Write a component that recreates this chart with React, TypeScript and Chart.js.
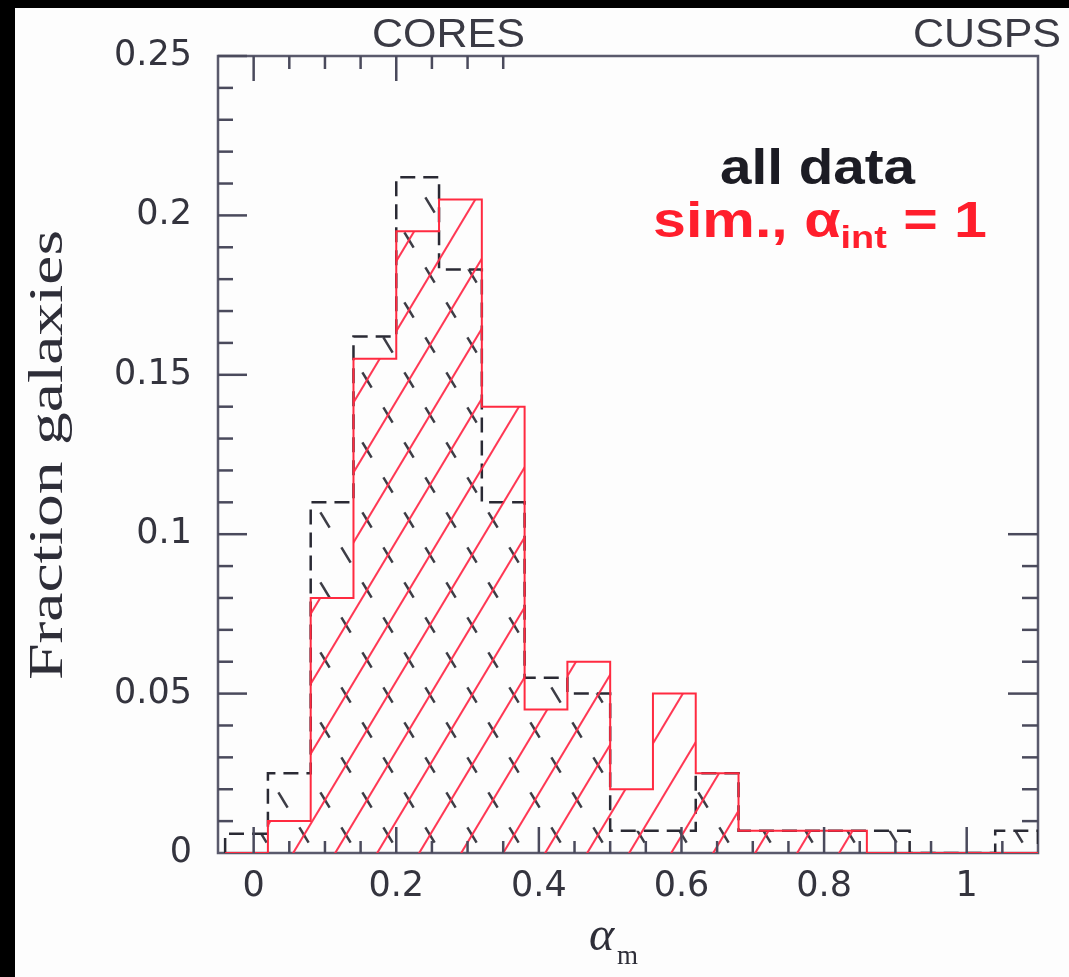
import React, { useEffect, useRef } from "react";
import { Chart, registerables } from "chart.js";

Chart.register(...registerables);

// ---- data ----
const binEdges = [-0.04, 0.02, 0.08, 0.14, 0.2, 0.26, 0.32, 0.38, 0.44, 0.5, 0.56, 0.62, 0.68, 0.74, 0.8, 0.86, 0.92, 0.98, 1.04, 1.1];
const allDataFraction = [0.006, 0.025, 0.11, 0.162, 0.212, 0.183, 0.11, 0.055, 0.05, 0.007, 0.007, 0.025, 0.007, 0.007, 0.007, 0.007, 0, 0, 0.007];
const simFraction = [0, 0.01, 0.08, 0.155, 0.195, 0.205, 0.14, 0.045, 0.06, 0.02, 0.05, 0.025, 0.007, 0.007, 0.007, 0, 0, 0, 0];
const xTickValues = [0, 0.2, 0.4, 0.6, 0.8, 1];
const xTickLabels = ["0", "0.2", "0.4", "0.6", "0.8", "1"];
const yTickValues = [0, 0.05, 0.1, 0.15, 0.2, 0.25];
const yTickLabels = ["0", "0.05", "0.1", "0.15", "0.2", "0.25"];

function stepPoints(values: number[]) {
  const last = binEdges[binEdges.length - 1];
  const pts: { x: number; y: number }[] = [{ x: binEdges[0], y: 0 }];
  values.forEach((v, i) => pts.push({ x: binEdges[i], y: v }));
  pts.push({ x: last, y: values[values.length - 1] });
  pts.push({ x: last, y: 0 });
  return pts;
}

const TW = 42;
const TH = 70;

function makeRedHatch(ctx: CanvasRenderingContext2D) {
  const c = document.createElement("canvas");
  c.width = TW;
  c.height = TH;
  const g = c.getContext("2d")!;
  g.strokeStyle = "rgba(255,45,75,0.95)";
  g.lineWidth = 2;
  for (const k of [-1, 0, 1]) {
    g.beginPath();
    g.moveTo(k * TW - TW, 2 * TH);
    g.lineTo(k * TW + 2 * TW, -TH);
    g.stroke();
  }
  const p = ctx.createPattern(c, "repeat")!;
  p.setTransform(new DOMMatrix().translate(31, 30));
  return p;
}

function makeBlackHatch(ctx: CanvasRenderingContext2D) {
  const c = document.createElement("canvas");
  c.width = TW;
  c.height = TH;
  const g = c.getContext("2d")!;
  const L = Math.sqrt(TW * TW + TH * TH);
  const d = 18;
  g.strokeStyle = "rgba(40,40,50,0.9)";
  g.lineWidth = 2.5;
  g.setLineDash([d, L / 2 - d]);
  g.lineDashOffset = d / 2;
  for (const k of [-1, 0, 1]) {
    g.beginPath();
    g.moveTo(k * TW - TW, -TH);
    g.lineTo(k * TW + 2 * TW, 2 * TH);
    g.stroke();
  }
  const p = ctx.createPattern(c, "repeat")!;
  p.setTransform(new DOMMatrix().translate(31, 30));
  return p;
}

function drawParts(
  ctx: CanvasRenderingContext2D,
  parts: { t: string; font: string; dy: number }[],
  left: number,
  baseline: number,
  targetWidth: number,
  color: string
) {
  ctx.save();
  ctx.fillStyle = color;
  ctx.textBaseline = "alphabetic";
  ctx.textAlign = "left";
  let total = 0;
  const widths = parts.map((p) => {
    ctx.font = p.font;
    const w = ctx.measureText(p.t).width;
    total += w;
    return w;
  });
  const sx = targetWidth / total;
  ctx.translate(left, baseline);
  ctx.scale(sx, 1);
  let x = 0;
  parts.forEach((p, i) => {
    ctx.font = p.font;
    ctx.fillText(p.t, x, p.dy);
    x += widths[i];
  });
  ctx.restore();
}

const decorPlugin = {
  id: "decor",
  beforeDraw(chart: any) {
    const ctx = chart.ctx as CanvasRenderingContext2D;
    ctx.save();
    ctx.fillStyle = "#000";
    ctx.fillRect(0, 0, chart.width, chart.height);
    ctx.fillStyle = "#fdfdfd";
    ctx.fillRect(15, 8, chart.width - 15, chart.height - 8);
    ctx.restore();
  },
  beforeDatasetsDraw(chart: any) {
    const ctx = chart.ctx as CanvasRenderingContext2D;
    const a = chart.chartArea;
    ctx.save();
    ctx.strokeStyle = "#5a5a6c";
    ctx.lineWidth = 2.5;
    ctx.strokeRect(a.left, a.top, a.right - a.left, a.bottom - a.top);
    ctx.restore();
  },
  afterDatasetsDraw(chart: any) {
    const ctx = chart.ctx as CanvasRenderingContext2D;
    const a = chart.chartArea;
    const xs = chart.scales.x;
    const ys = chart.scales.y;
    ctx.save();
    ctx.strokeStyle = "#4a4a5c";
    ctx.lineWidth = 2.5;
    const line = (x1: number, y1: number, x2: number, y2: number) => {
      ctx.beginPath();
      ctx.moveTo(x1, y1);
      ctx.lineTo(x2, y2);
      ctx.stroke();
    };
    for (let i = 1; i <= 25; i++) {
      const y = ys.getPixelForValue(i / 100);
      const len = i % 5 === 0 ? 29 : 15;
      line(a.left, y, a.left + len, y);
    }
    for (let i = 1; i <= 10; i++) {
      const y = ys.getPixelForValue(i / 100);
      const len = i % 5 === 0 ? 30 : 16;
      line(a.right, y, a.right - len, y);
    }
    for (let i = 0; i <= 7; i++) {
      const x = xs.getPixelForValue(i * 0.05);
      const len = i % 4 === 0 ? 25 : 13;
      line(x, a.top, x, a.top + len);
    }
    for (let i = 0; i <= 21; i++) {
      const x = xs.getPixelForValue(i * 0.05);
      const len = i % 4 === 0 ? 26 : 12;
      line(x, a.bottom, x, a.bottom - len);
    }
    ctx.restore();
  },
  afterDraw(chart: any) {
    const ctx = chart.ctx as CanvasRenderingContext2D;
    drawParts(ctx, [{ t: "CORES", font: '40px "Liberation Sans"', dy: 0 }], 372, 47, 153, "#3a3a44");
    drawParts(ctx, [{ t: "CUSPS", font: '40px "Liberation Sans"', dy: 0 }], 913, 47, 148, "#3a3a44");
    drawParts(ctx, [{ t: "all data", font: 'bold 50px "Liberation Sans"', dy: 0 }], 720, 184, 195, "#1c1c24");
    drawParts(
      ctx,
      [
        { t: "sim., ", font: 'bold 50px "Liberation Sans"', dy: 0 },
        { t: "α", font: 'bold 50px "Liberation Sans"', dy: 0 },
        { t: "int", font: 'bold 32px "Liberation Sans"', dy: 11 },
        { t: " = 1", font: 'bold 50px "Liberation Sans"', dy: 0 },
      ],
      653,
      237,
      334,
      "#ff1e2c"
    );
    ctx.save();
    ctx.fillStyle = "#2e2e38";
    ctx.font = '48px "Liberation Serif"';
    const yt = "Fraction galaxies";
    const w = ctx.measureText(yt).width;
    ctx.translate(49, 455);
    ctx.rotate(-Math.PI / 2);
    ctx.scale(450 / w, 1);
    ctx.textAlign = "center";
    ctx.textBaseline = "middle";
    ctx.fillText(yt, 0, 0);
    ctx.restore();
    ctx.save();
    ctx.fillStyle = "#2e2e38";
    ctx.font = 'italic 48px "Liberation Serif"';
    ctx.textBaseline = "alphabetic";
    ctx.fillText("α", 589, 950);
    ctx.font = '27px "Liberation Serif"';
    ctx.fillText("m", 617, 964);
    ctx.restore();
  },
};

export default function App() {
  const canvasRef = useRef<HTMLCanvasElement | null>(null);

  useEffect(() => {
    const canvas = canvasRef.current!;
    const ctx = canvas.getContext("2d")!;
    const redHatch = makeRedHatch(ctx);
    const blackHatch = makeBlackHatch(ctx);

    const chart = new Chart(ctx, {
      type: "line",
      data: {
        datasets: [
          {
            label: "sim., alpha_int = 1",
            data: stepPoints(simFraction),
            stepped: "before",
            borderColor: "#ff2a40",
            borderWidth: 2,
            backgroundColor: redHatch as any,
            fill: "origin",
            pointRadius: 0,
          },
          {
            label: "all data",
            data: stepPoints(allDataFraction),
            stepped: "before",
            borderColor: "#2a2a34",
            borderWidth: 2.5,
            borderDash: [15, 8],
            backgroundColor: blackHatch as any,
            fill: "origin",
            pointRadius: 0,
          },
        ],
      },
      options: {
        animation: false,
        responsive: false,
        devicePixelRatio: 1,
        layout: { padding: { left: 0, top: 56, right: 31, bottom: 0 } },
        plugins: { legend: { display: false }, tooltip: { enabled: false } },
        scales: {
          x: {
            type: "linear",
            min: -0.05,
            max: 1.1,
            grid: { display: false, drawTicks: false },
            border: { display: false },
            afterBuildTicks: (s: any) => {
              s.ticks = xTickValues.map((v) => ({ value: v }));
            },
            afterFit: (s: any) => {
              s.height = 124;
            },
            ticks: {
              autoSkip: false,
              maxRotation: 0,
              padding: 13,
              color: "#34343e",
              font: { family: "DejaVu Sans", size: 35 },
              callback: (v: any) => xTickLabels[xTickValues.indexOf(Number(v))] ?? "",
            },
          },
          y: {
            type: "linear",
            min: 0,
            max: 0.25,
            grid: { display: false, drawTicks: false },
            border: { display: false },
            afterBuildTicks: (s: any) => {
              s.ticks = yTickValues.map((v) => ({ value: v }));
            },
            afterFit: (s: any) => {
              s.width = 218;
            },
            ticks: {
              autoSkip: false,
              padding: 26,
              color: "#34343e",
              font: { family: "DejaVu Sans", size: 35 },
              callback: (v: any) => yTickLabels[yTickValues.indexOf(Number(v))] ?? "",
            },
          },
        },
      } as any,
      plugins: [decorPlugin],
    });
    return () => chart.destroy();
  }, []);

  return (
    <div style={{ position: "fixed", left: 0, top: 0, width: 1069, height: 977, background: "#000" }}>
      <canvas ref={canvasRef} width={1069} height={977} style={{ display: "block", width: 1069, height: 977 }} />
    </div>
  );
}
